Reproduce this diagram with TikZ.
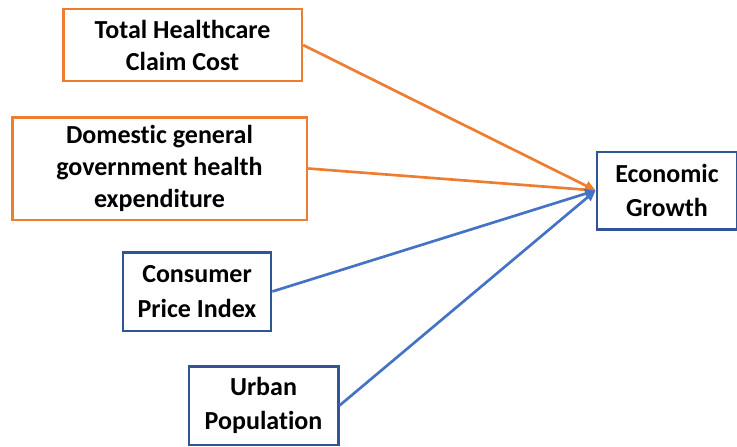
\documentclass[tikz,border=0pt]{standalone}
\usepackage{fontspec}
\setmainfont[Ligatures=NoCommon]{Carlito}
\usetikzlibrary{arrows.meta}
\definecolor{boxorange}{RGB}{237,125,49}
\definecolor{boxblue}{RGB}{47,85,151}
\definecolor{lineblue}{RGB}{68,114,196}
\begin{document}
\begin{tikzpicture}[x=0.75pt,y=-0.75pt,
  factor/.style={draw,line width=2pt,align=center,inner sep=0pt,
    font=\fontsize{19.5}{24}\selectfont\bfseries},
  orangebox/.style={factor,draw=boxorange},
  bluebox/.style={factor,draw=boxblue,font=\fontsize{19.5}{26}\selectfont\bfseries},
  link/.style={line width=2pt,-{Triangle[length=8pt,width=7pt]}}]
\useasboundingbox (0,0) rectangle (737,446);
% predictors on the left
\node[orangebox,minimum width=179pt,minimum height=54pt] (claim) at (182.5,45)
  {Total Healthcare\\Claim Cost};
\node[orangebox,minimum width=221pt,minimum height=77pt] (govexp) at (159.5,168.5)
  {Domestic general\\government health\\expenditure};
\node[bluebox,minimum width=111pt,minimum height=59pt] (cpi) at (197,291.5)
  {Consumer\\Price Index};
\node[bluebox,minimum width=112pt,minimum height=59pt] (urban) at (263.5,405.5)
  {Urban\\Population};
% outcome
\node[bluebox,minimum width=105pt,minimum height=58pt] (growth) at (667,190.5)
  {Economic\\Growth};
% arrows into the outcome
\draw[link,boxorange] (claim.east) -- (growth.west);
\draw[link,boxorange] (govexp.east) -- (growth.west);
\draw[link,lineblue] (cpi.east) -- (growth.west);
\draw[link,lineblue] (urban.east) -- (growth.west);
\end{tikzpicture}
\end{document}
